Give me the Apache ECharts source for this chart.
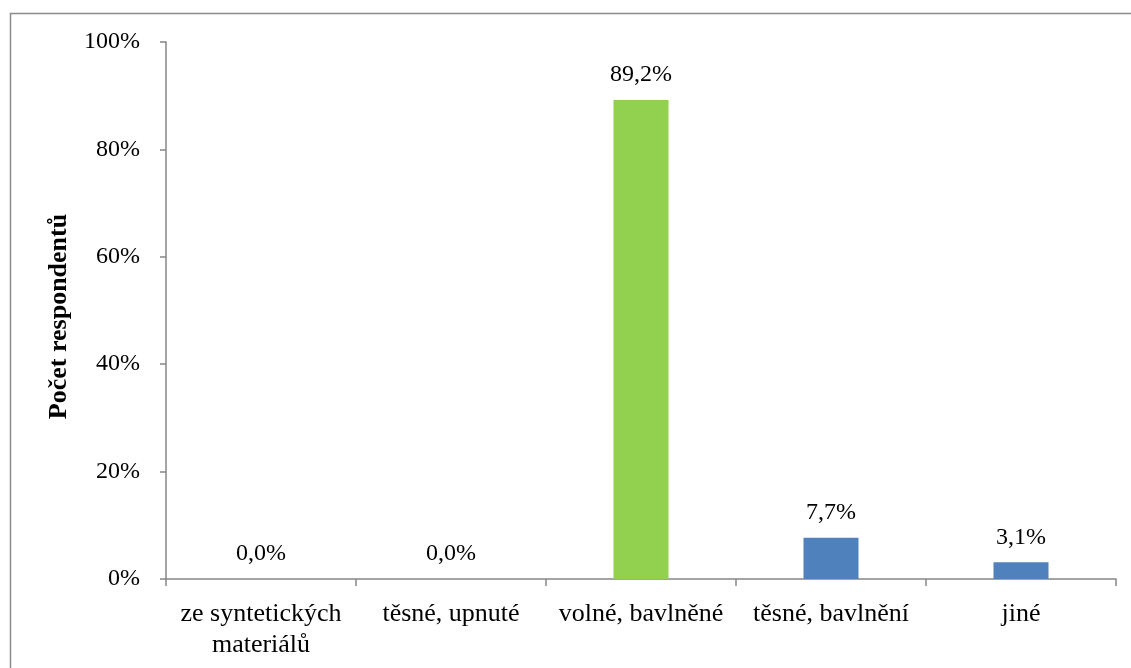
<!DOCTYPE html>
<html>
<head>
<meta charset="utf-8">
<script src="https://cdn.jsdelivr.net/npm/echarts@6/dist/echarts.min.js"></script>
<style>
  html, body { margin: 0; padding: 0; background: #fff; }
  #chart { width: 1131px; height: 668px; }
</style>
</head>
<body>
<div id="chart"></div>
<script>
// Typ oblečení – podíl respondentů
const categories = ['ze syntetických\nmateriálů', 'těsné, upnuté', 'volné, bavlněné', 'těsné, bavlnění', 'jiné'];
const values = [0.0, 0.0, 89.2, 7.7, 3.1];
const barColors = ['#4F81BD', '#4F81BD', '#92D050', '#4F81BD', '#4F81BD'];
const yTicks = [0, 20, 40, 60, 80, 100];

const font = '"Liberation Serif", "Times New Roman", serif';
const axisGray = '#868686';

const chart = echarts.init(document.getElementById('chart'), null, { renderer: 'canvas' });

chart.setOption({
  animation: false,
  backgroundColor: '#ffffff',
  graphic: [{
    type: 'rect',
    shape: { x: 10.5, y: 13.5, width: 1140, height: 680 },
    style: { fill: 'none', stroke: '#8c8c8c', lineWidth: 1.5 },
    silent: true
  }],
  grid: { left: 166, right: 15, top: 42, bottom: 89 },
  xAxis: {
    type: 'category',
    data: categories,
    axisLine: { show: true, lineStyle: { color: axisGray, width: 1.5 } },
    axisTick: { show: true, alignWithLabel: false, length: 7, lineStyle: { color: axisGray, width: 1.5 } },
    axisLabel: {
      interval: 0,
      margin: 20,
      color: '#000',
      fontFamily: font,
      fontSize: 26,
      lineHeight: 31,
      align: 'center'
    }
  },
  yAxis: {
    type: 'value',
    min: yTicks[0],
    max: yTicks[yTicks.length - 1],
    interval: 20,
    name: 'Počet respondentů',
    nameLocation: 'middle',
    nameGap: 94,
    nameRotate: 90,
    nameTextStyle: { color: '#000', fontFamily: font, fontSize: 26, fontWeight: 'bold', padding: [0, 12, 0, 0] },
    axisLine: { show: true, lineStyle: { color: axisGray, width: 1.5 } },
    axisTick: { show: true, inside: false, length: 6, lineStyle: { color: axisGray, width: 1.5 } },
    splitLine: { show: false },
    axisLabel: {
      margin: 26,
      color: '#000',
      fontFamily: font,
      fontSize: 24,
      formatter: v => v + '%'
    }
  },
  series: [{
    type: 'bar',
    barWidth: 55,
    data: values.map((v, i) => ({ value: v, itemStyle: { color: barColors[i] } })),
    label: {
      show: true,
      position: 'top',
      distance: 13,
      color: '#000',
      fontFamily: font,
      fontSize: 24,
      formatter: p => p.value.toFixed(1).replace('.', ',') + '%'
    }
  }]
});
</script>
</body>
</html>
